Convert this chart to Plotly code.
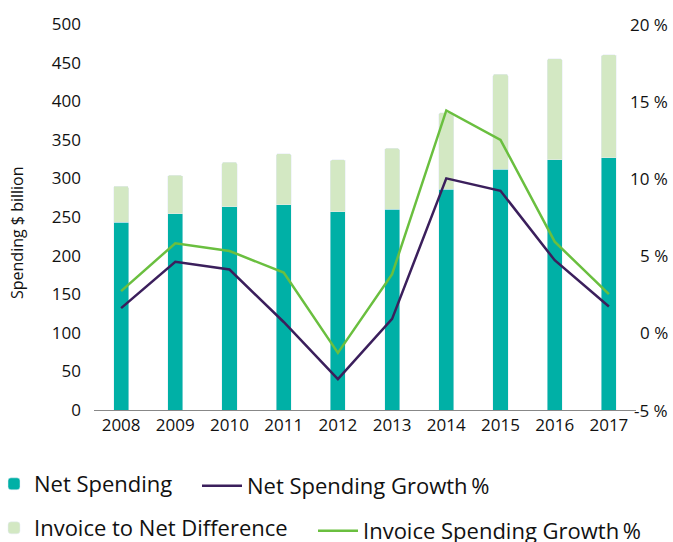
import plotly.graph_objects as go

years = ["2008", "2009", "2010", "2011", "2012", "2013", "2014", "2015", "2016", "2017"]
net_spending = [243, 254, 263, 266, 257, 260, 286, 312, 324, 327]
invoice_diff = [47, 50, 58, 66, 67, 79, 99, 123, 131, 133]
net_growth = [1.6, 4.6, 4.1, 0.7, -3.0, 0.9, 10.0, 9.2, 4.7, 1.7]
invoice_growth = [2.7, 5.8, 5.3, 3.9, -1.3, 3.8, 14.4, 12.5, 5.9, 2.5]

left_ticks = [0, 50, 100, 150, 200, 250, 300, 350, 400, 450, 500]
right_ticks = [-5, 0, 5, 10, 15, 20]
right_labels = ["-5 %", "0 %", "5 %", "10 %", "15 %", "20 %"]

TEAL = "#00B0A6"
LIGHT = "#D3E8C3"
PURPLE = "#3B1F5C"
GREEN = "#6ABF3F"
FONT = "Open Sans"

fig = go.Figure()
fig.add_trace(go.Bar(x=years, y=net_spending, name="Net Spending",
                     marker=dict(color=TEAL), legend="legend"))
fig.add_trace(go.Bar(x=years, y=invoice_diff, name="Invoice to Net Difference",
                     marker=dict(color=LIGHT), legend="legend3"))
fig.add_trace(go.Scatter(x=years, y=net_growth, name="Net Spending Growth\u2009%",
                         mode="lines", line=dict(color=PURPLE, width=2.5),
                         yaxis="y2", legend="legend2"))
fig.add_trace(go.Scatter(x=years, y=invoice_growth, name="Invoice Spending Growth\u2009%",
                         mode="lines", line=dict(color=GREEN, width=2.5),
                         yaxis="y2", legend="legend4"))

W, H = 673, 542
L, R, T, B = 94, 37, 24, 132
pw, ph = W - L - R, H - T - B


def px(xp):
    return (xp - L) / pw


def py(yp):
    return (H - B - yp) / ph


leg_font = dict(family=FONT, size=22, color="#111111")
common = dict(font=leg_font, bgcolor="rgba(0,0,0,0)", borderwidth=0,
              xanchor="left", yanchor="middle", orientation="v")

annotations = [
    dict(x=px(670), y=v, xref="paper", yref="y2", text=t, showarrow=False,
         xanchor="right", yanchor="middle",
         font=dict(family=FONT, size=17, color="#111111"))
    for v, t in zip(right_ticks, right_labels)
]
annotations.append(dict(x=px(17), y=py(233), xref="paper", yref="paper",
                        text="Spending $ billion", textangle=-90, showarrow=False,
                        xanchor="center", yanchor="middle",
                        font=dict(family=FONT, size=16, color="#111111")))

fig.update_layout(
    width=W, height=H,
    margin=dict(l=L, r=R, t=T, b=B, autoexpand=False),
    paper_bgcolor="white", plot_bgcolor="white",
    barmode="stack", bargap=0.72, barcornerradius=2,
    font=dict(family=FONT, size=17, color="#111111"),
    showlegend=True,
    legend=dict(x=px(-6), y=py(484), itemwidth=30, **common),
    legend3=dict(x=px(-6), y=py(528), itemwidth=30, **common),
    legend2=dict(x=px(197), y=py(486), itemwidth=40, **common),
    legend4=dict(x=px(313), y=py(531), itemwidth=40, **common),
    xaxis=dict(type="category", showline=True, linecolor="#888888", linewidth=1,
               ticks="", showgrid=False, tickfont=dict(family=FONT, size=17)),
    yaxis=dict(range=[0, 500], tickvals=left_ticks, showgrid=False, zeroline=False,
               showline=False, ticks="", ticklabelstandoff=12,
               tickfont=dict(family=FONT, size=17)),
    yaxis2=dict(range=[-5, 20], overlaying="y", side="right", showgrid=False,
                zeroline=False, showline=False, showticklabels=False, ticks=""),
    annotations=annotations,
)

fig.write_html("out.html", config={"displayModeBar": False})

with open("out.html", "r", encoding="utf-8") as f:
    html = f.read()
html = html.replace("<head>", "<head><style>html,body{margin:0;padding:0;overflow:hidden;}</style>", 1)
with open("out.html", "w", encoding="utf-8") as f:
    f.write(html)
